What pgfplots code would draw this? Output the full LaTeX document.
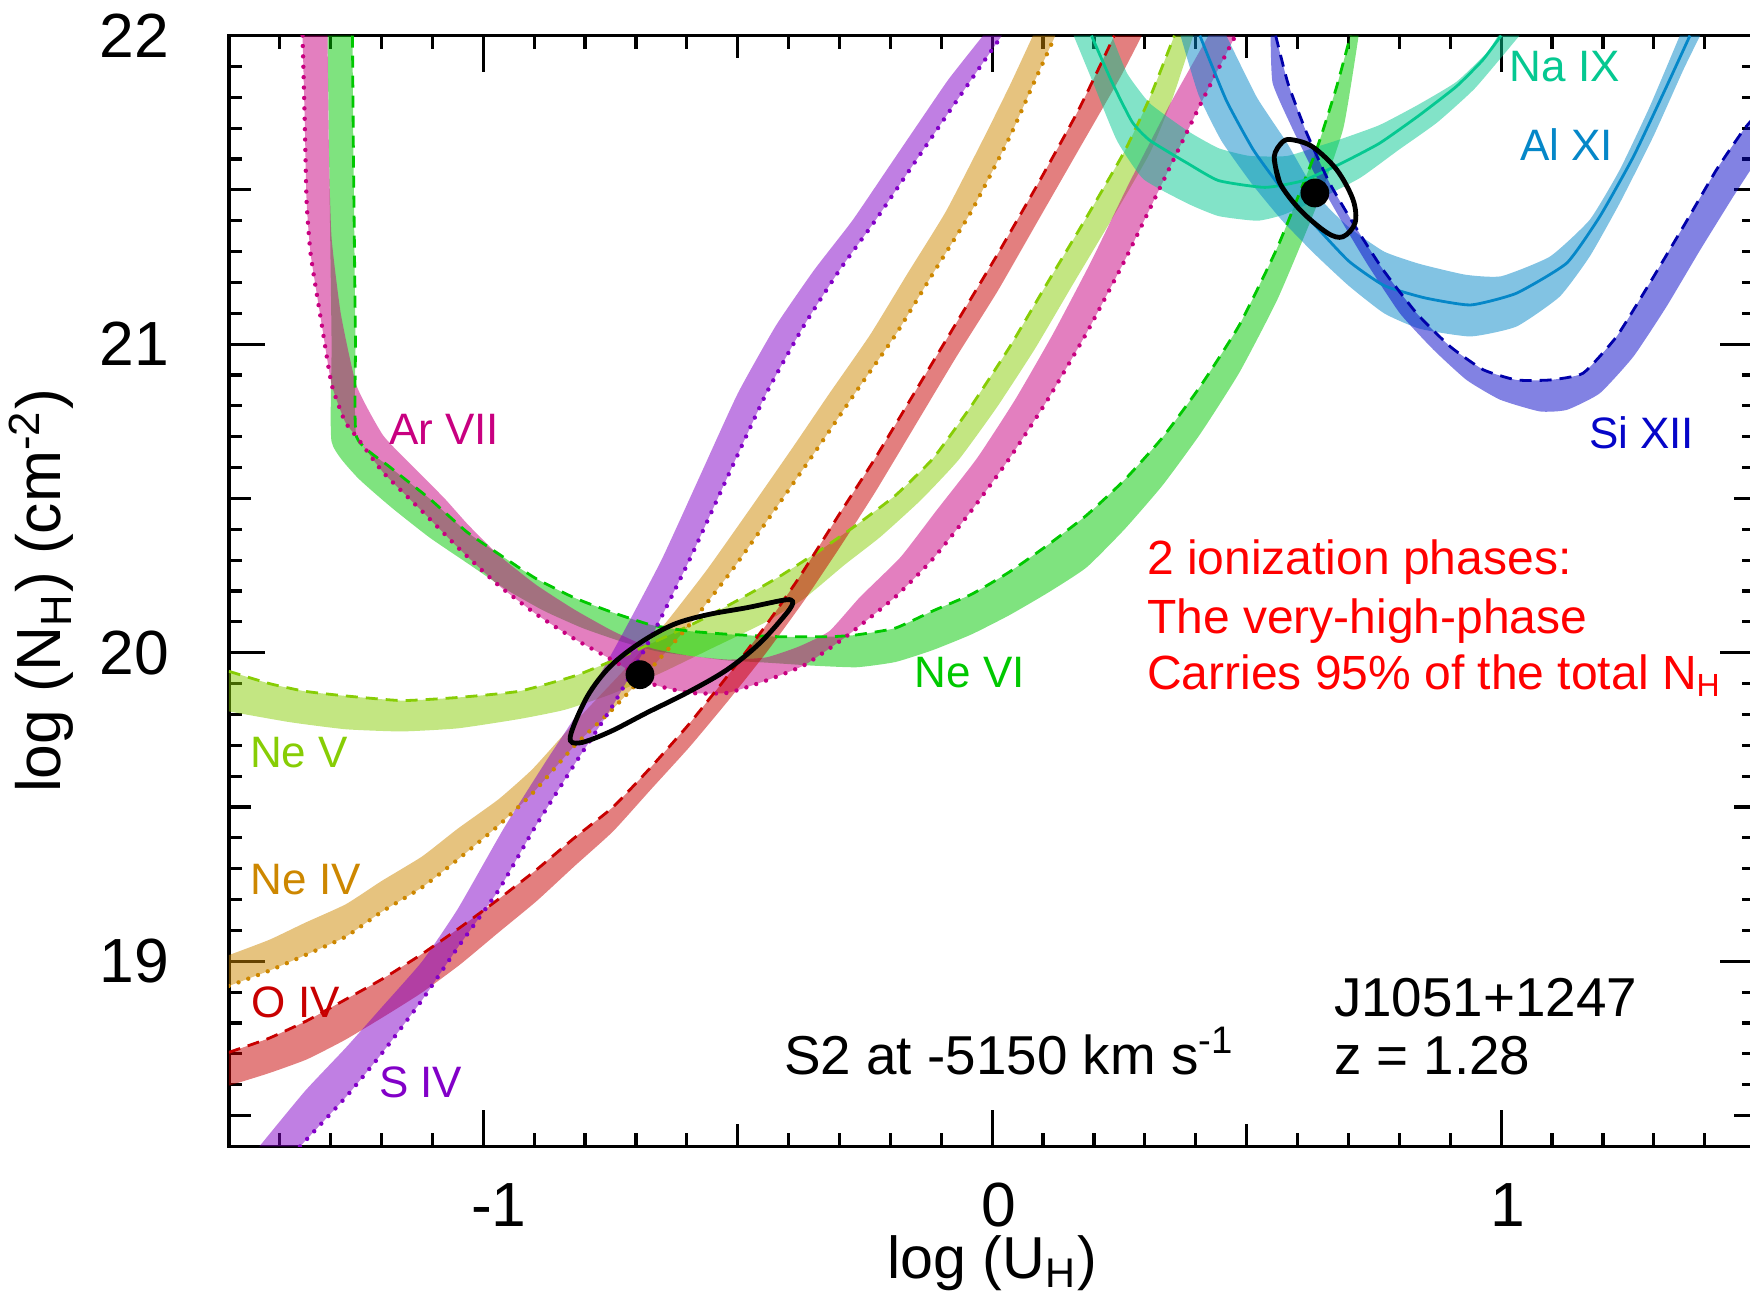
\documentclass[border=0pt]{standalone}
\usepackage{pgfplots}
\pgfplotsset{compat=1.18}
\usepgfplotslibrary{fillbetween}
\usepackage{fontspec}
\setmainfont{Liberation Sans}

% ion colours (bands are filled with these at half opacity)
\definecolor{cArVII}{RGB}{200,0,128}
\definecolor{cNeVI}{RGB}{0,200,0}
\definecolor{cNeV}{RGB}{135,205,5}
\definecolor{cNeIV}{RGB}{205,135,0}
\definecolor{cOIV}{RGB}{200,0,0}
\definecolor{cSIV}{RGB}{130,0,200}
\definecolor{cNaIX}{RGB}{5,200,145}
\definecolor{cAlXI}{RGB}{5,135,200}
\definecolor{cSiXII}{RGB}{5,5,200}
\definecolor{cSiXIIline}{RGB}{0,0,170}

\tikzset{
  band/.style={fill=#1, fill opacity=0.5, draw=none},
  edge/.style={draw=none, smooth, tension=0.3},
  dotline/.style={draw=#1, line width=1.1pt, line cap=round, dash pattern=on 0pt off 2.6pt, smooth, tension=0.3},
  dashline/.style={draw=#1, line width=0.7pt, dash pattern=on 3pt off 2pt, smooth, tension=0.3},
  solidline/.style={draw=#1, line width=0.7pt, smooth, tension=0.3},
  ionlabel/.style={text=#1, font=\fontsize{11}{13}\selectfont, inner sep=0pt},
}

\begin{document}
\begin{tikzpicture}
\begin{axis}[
  width=381.75pt, height=277.75pt, scale only axis,
  xmin=-1.5, xmax=1.5, ymin=18.4, ymax=22,
  xtick={-1,0,1}, xticklabels={\kern4.4pt-1,0,1},
  ytick={19,20,21,22}, yticklabels={19,20,21,22},
  minor xtick={-1.4,-1.3,-1.2,-1.1,-0.9,-0.8,-0.7,-0.6,-0.4,-0.3,-0.2,-0.1,0.1,0.2,0.3,0.4,0.6,0.7,0.8,0.9,1.1,1.2,1.3,1.4},
  minor ytick={18.6,18.7,18.8,18.9,19.1,19.2,19.3,19.4,19.6,19.7,19.8,19.9,20.1,20.2,20.3,20.4,20.6,20.7,20.8,20.9,21.1,21.2,21.3,21.4,21.6,21.7,21.8,21.9},
  extra x ticks={-0.5,0.5}, extra x tick labels={},
  extra x tick style={major tick length=5.5pt},
  extra y ticks={18.5,19.5,20.5,21.5}, extra y tick labels={},
  extra y tick style={major tick length=5.5pt},
  major tick length=9pt, minor tick length=3.3pt,
  tick style={black, line width=0.8pt},
  axis line style={line width=0.9pt},
  tick align=inside,
  ticklabel style={font=\fontsize{15.6}{18}\selectfont},
  xticklabel style={inner sep=0pt, anchor=north, yshift=-9pt, xshift=1.7pt},
  yticklabel style={inner sep=0pt, anchor=east, xshift=-14.7pt},
  label style={font=\fontsize{15.6}{18}\selectfont},
  xlabel style={font=\fontsize{14.8}{17}\selectfont},
  xlabel={log (U\textsubscript{H})},
  ylabel={log (N\textsubscript{H}) (cm\textsuperscript{-2})},
  xlabel style={at={(axis description cs:0.5,-0.1188)}, anchor=base, inner sep=0pt},
  ylabel style={at={(axis description cs:-0.110,0.5)}, anchor=base, inner sep=0pt},
]

% ---------------- Ne V ----------------
\addplot[dashline=cNeV, name path=neVa] coordinates {
(-1.50,19.94) (-1.42,19.90) (-1.35,19.875) (-1.27,19.86) (-1.16,19.845) (-1.05,19.855)
(-0.93,19.875) (-0.82,19.925) (-0.745,19.975) (-0.67,20.03) (-0.58,20.10) (-0.50,20.17)
(-0.42,20.245) (-0.34,20.33) (-0.27,20.41) (-0.19,20.51) (-0.116,20.63) (-0.041,20.80)
(0.034,20.99) (0.109,21.20) (0.185,21.41) (0.26,21.625) (0.31,21.80) (0.358,22.0)};
\addplot[edge, name path=neVb] coordinates {
(-1.50,19.81) (-1.38,19.775) (-1.27,19.752) (-1.16,19.745) (-1.05,19.755) (-0.93,19.785)
(-0.84,19.815) (-0.75,19.865) (-0.65,19.935) (-0.55,20.015) (-0.45,20.095) (-0.37,20.175)
(-0.29,20.285) (-0.22,20.375) (-0.14,20.495) (-0.066,20.625) (0.009,20.795) (0.084,20.985)
(0.159,21.195) (0.235,21.405) (0.31,21.62) (0.355,21.80) (0.395,22.0)};
\addplot[band=cNeV] fill between[of=neVa and neVb];

% ---------------- Ne IV ----------------
\addplot[dotline=cNeIV, name path=neIVa] coordinates {
(-1.5,18.92) (-1.42,18.97) (-1.35,19.02) (-1.27,19.08) (-1.20,19.16) (-1.12,19.24)
(-1.05,19.33) (-0.97,19.44) (-0.90,19.55) (-0.82,19.70) (-0.75,19.81) (-0.67,19.95)
(-0.59,20.10) (-0.51,20.27) (-0.42,20.48) (-0.34,20.67) (-0.27,20.84) (-0.19,21.03)
(-0.116,21.23) (-0.041,21.43) (0.034,21.67) (0.08,21.84) (0.124,22.0)};
\addplot[edge, name path=neIVb] coordinates {
(-1.5,19.02) (-1.42,19.07) (-1.35,19.125) (-1.27,19.185) (-1.20,19.26) (-1.12,19.34)
(-1.05,19.43) (-0.97,19.525) (-0.905,19.62) (-0.85,19.72) (-0.80,19.81) (-0.72,19.95)
(-0.64,20.10) (-0.56,20.27) (-0.47,20.48) (-0.39,20.67) (-0.32,20.84) (-0.24,21.03)
(-0.166,21.23) (-0.091,21.43) (-0.016,21.67) (0.035,21.84) (0.08,22.0)};
\addplot[band=cNeIV] fill between[of=neIVa and neIVb];

% ---------------- Ne VI ----------------
\addplot[dashline=cNeVI, name path=neVIa] coordinates {
(-1.257,22.0) (-1.255,21.6) (-1.253,21.3) (-1.251,21.0) (-1.249,20.70) (-1.182,20.60)
(-1.106,20.50) (-1.031,20.39) (-0.956,20.305) (-0.896,20.24) (-0.821,20.178) (-0.745,20.13)
(-0.670,20.09) (-0.595,20.07) (-0.520,20.06) (-0.42,20.052) (-0.318,20.052) (-0.266,20.058)
(-0.19,20.08) (-0.116,20.136) (-0.04,20.19) (0.034,20.262) (0.11,20.35) (0.185,20.445)
(0.26,20.56) (0.335,20.698) (0.410,20.866) (0.486,21.063) (0.561,21.316) (0.636,21.625)
(0.676,21.83) (0.704,22.0)};
\addplot[edge, name path=neVIb] coordinates {
(-1.306,22.0) (-1.302,21.5) (-1.298,21.0) (-1.298,20.684) (-1.249,20.571) (-1.182,20.473)
(-1.106,20.374) (-1.031,20.29) (-0.956,20.206) (-0.881,20.136) (-0.805,20.08) (-0.730,20.037)
(-0.66,20.005) (-0.595,19.99) (-0.52,19.975) (-0.444,19.968) (-0.35,19.958) (-0.266,19.953)
(-0.19,19.97) (-0.116,20.009) (-0.04,20.06) (0.034,20.122) (0.11,20.195) (0.185,20.276)
(0.26,20.40) (0.335,20.543) (0.410,20.712) (0.486,20.909) (0.561,21.147) (0.636,21.442)
(0.69,21.70) (0.72,22.0)};
\addplot[band=cNeVI] fill between[of=neVIa and neVIb];

% ---------------- Ar VII ----------------
\addplot[dotline=cArVII, name path=arVIIa] coordinates {
(-1.355,22.0) (-1.351,21.74) (-1.347,21.46) (-1.339,21.29) (-1.317,21.06) (-1.298,20.87)
(-1.272,20.75) (-1.249,20.70) (-1.197,20.585) (-1.121,20.46) (-1.046,20.335) (-0.971,20.22)
(-0.896,20.125) (-0.821,20.045) (-0.745,19.975) (-0.670,19.90) (-0.595,19.87) (-0.520,19.87)
(-0.444,19.91) (-0.369,19.96) (-0.289,20.05) (-0.191,20.18) (-0.116,20.305) (-0.041,20.46)
(0.034,20.63) (0.109,20.82) (0.185,21.035) (0.260,21.27) (0.335,21.525) (0.410,21.78)
(0.478,22.0)};
\addplot[edge, name path=arVIIb] coordinates {
(-1.306,22.0) (-1.303,21.6) (-1.298,21.344) (-1.28,21.10) (-1.249,20.866) (-1.197,20.705)
(-1.136,20.60) (-1.076,20.50) (-1.031,20.417) (-0.971,20.318) (-0.896,20.22) (-0.821,20.14)
(-0.745,20.07) (-0.670,20.015) (-0.595,19.99) (-0.520,19.978) (-0.444,19.985) (-0.38,20.02)
(-0.32,20.07) (-0.26,20.18) (-0.18,20.31) (-0.11,20.46) (-0.03,20.63) (0.045,20.82)
(0.12,21.035) (0.195,21.27) (0.27,21.525) (0.35,21.78) (0.425,22.0)};
\addplot[band=cArVII] fill between[of=arVIIa and arVIIb];

% ---------------- O IV ----------------
\addplot[dashline=cOIV, name path=oIVa] coordinates {
(-1.5,18.705) (-1.422,18.75) (-1.347,18.807) (-1.272,18.875) (-1.197,18.944) (-1.121,19.023)
(-1.046,19.109) (-0.971,19.20) (-0.896,19.296) (-0.821,19.40) (-0.745,19.50) (-0.670,19.63)
(-0.595,19.77) (-0.520,19.925) (-0.444,20.09) (-0.378,20.247) (-0.30,20.45) (-0.23,20.63)
(-0.15,20.85) (-0.07,21.07) (0.01,21.29) (0.09,21.52) (0.17,21.76) (0.24,22.0)};
\addplot[edge, name path=oIVb] coordinates {
(-1.5,18.597) (-1.422,18.637) (-1.347,18.682) (-1.272,18.745) (-1.197,18.819) (-1.121,18.898)
(-1.046,18.989) (-0.971,19.092) (-0.896,19.194) (-0.821,19.308) (-0.745,19.421) (-0.670,19.558)
(-0.595,19.694) (-0.520,19.842) (-0.444,20.0) (-0.369,20.17) (-0.30,20.34) (-0.23,20.52)
(-0.15,20.74) (-0.07,20.96) (0.01,21.17) (0.09,21.40) (0.17,21.63) (0.25,21.86) (0.294,22.0)};
\addplot[band=cOIV] fill between[of=oIVa and oIVb];

% ---------------- S IV ----------------
\addplot[dotline=cSIV, name path=sIVa] coordinates {
(-1.36,18.40) (-1.27,18.56) (-1.20,18.70) (-1.12,18.875) (-1.05,19.045) (-0.97,19.23)
(-0.90,19.43) (-0.82,19.64) (-0.745,19.83) (-0.67,20.05) (-0.595,20.30) (-0.52,20.57)
(-0.444,20.84) (-0.37,21.06) (-0.30,21.24) (-0.23,21.40) (-0.16,21.57) (-0.09,21.74)
(-0.04,21.86) (0.019,22.0)};
\addplot[edge, name path=sIVb] coordinates {
(-1.44,18.40) (-1.35,18.58) (-1.27,18.72) (-1.20,18.85) (-1.12,19.00) (-1.05,19.17)
(-0.96,19.43) (-0.88,19.64) (-0.805,19.83) (-0.73,20.05) (-0.65,20.30) (-0.575,20.57)
(-0.50,20.84) (-0.425,21.06) (-0.35,21.24) (-0.275,21.40) (-0.205,21.57) (-0.135,21.74)
(-0.085,21.86) (-0.018,22.0)};
\addplot[band=cSIV] fill between[of=sIVa and sIVb];

% ---------------- Na IX ----------------
\addplot[edge, name path=naIXa] coordinates {
(0.16,22.0) (0.20,21.84) (0.245,21.66) (0.297,21.535) (0.385,21.455) (0.445,21.415)
(0.521,21.40) (0.573,21.42) (0.648,21.475) (0.724,21.54) (0.799,21.63) (0.874,21.718)
(0.949,21.83) (1.036,22.0)};
\addplot[edge, name path=naIXb] coordinates {
(0.235,22.0) (0.265,21.878) (0.31,21.78) (0.385,21.69) (0.445,21.635) (0.506,21.61)
(0.58,21.61) (0.648,21.645) (0.686,21.665) (0.761,21.71) (0.836,21.775) (0.912,21.85)
(0.972,21.945) (0.994,22.0)};
\addplot[band=cNaIX] fill between[of=naIXa and naIXb];
\addplot[solidline=cNaIX] coordinates {
(0.195,22.0) (0.235,21.85) (0.275,21.72) (0.31,21.66) (0.385,21.585) (0.445,21.53)
(0.536,21.508) (0.611,21.53) (0.686,21.586) (0.761,21.651) (0.836,21.738) (0.912,21.835)
(0.964,21.921) (1.0,22.0)};

% ---------------- Al XI ----------------
\addplot[edge, name path=alXIa] coordinates {
(0.37,22.0) (0.405,21.81) (0.45,21.66) (0.51,21.52) (0.57,21.40) (0.635,21.29) (0.70,21.19)
(0.77,21.10) (0.84,21.05) (0.94,21.025) (1.03,21.057) (1.115,21.154) (1.174,21.284)
(1.233,21.457) (1.299,21.673) (1.358,21.889) (1.391,22.0)};
\addplot[edge, name path=alXIb] coordinates {
(0.46,22.0) (0.52,21.80) (0.58,21.65) (0.64,21.48) (0.70,21.38) (0.77,21.30) (0.84,21.26)
(0.93,21.225) (1.0,21.22) (1.096,21.284) (1.174,21.403) (1.233,21.565) (1.292,21.77)
(1.351,22.0)};
\addplot[band=cAlXI] fill between[of=alXIa and alXIb];
\addplot[solidline=cAlXI] coordinates {
(0.408,22.0) (0.46,21.79) (0.513,21.63) (0.566,21.51) (0.626,21.40) (0.70,21.27) (0.77,21.19)
(0.85,21.15) (0.94,21.127) (1.03,21.165) (1.129,21.263) (1.194,21.414) (1.26,21.608)
(1.325,21.835) (1.371,22.0)};

% ---------------- Si XII ----------------
\addplot[dashline=cSiXIIline, name path=siXIIa] coordinates {
(0.557,22.0) (0.581,21.846) (0.618,21.684) (0.663,21.522) (0.71,21.39) (0.768,21.241)
(0.834,21.10) (0.90,20.992) (0.965,20.917) (1.03,20.884) (1.096,20.884) (1.161,20.906)
(1.227,21.025) (1.292,21.198) (1.358,21.381) (1.423,21.565) (1.476,21.694) (1.5,21.74)};
\addplot[edge, name path=siXIIb] coordinates {
(0.547,22.0) (0.551,21.846) (0.588,21.705) (0.633,21.554) (0.686,21.40) (0.736,21.262)
(0.801,21.10) (0.867,20.982) (0.932,20.884) (0.998,20.82) (1.076,20.782) (1.129,20.787)
(1.194,20.841) (1.26,20.96) (1.325,21.122) (1.391,21.305) (1.456,21.478) (1.5,21.59)};
\addplot[band=cSiXII] fill between[of=siXIIa and siXIIb];

% ---------------- confidence contours and best solutions ----------------
\addplot[black, line width=1.2pt, smooth, tension=0.55] coordinates {
(-0.392,20.16) (-0.403,20.13) (-0.456,20.032) (-0.521,19.945) (-0.600,19.870) (-0.678,19.806)
(-0.751,19.744) (-0.810,19.708) (-0.829,19.728) (-0.796,19.857) (-0.751,19.955) (-0.692,20.032)
(-0.627,20.091) (-0.560,20.123) (-0.482,20.146) (-0.403,20.172) (-0.392,20.16)};
\addplot[black, line width=1.2pt, smooth, tension=0.55] coordinates {
(0.554,21.607) (0.565,21.523) (0.605,21.435) (0.658,21.361) (0.689,21.348) (0.713,21.393)
(0.709,21.468) (0.677,21.565) (0.630,21.639) (0.591,21.662) (0.571,21.656) (0.554,21.607)
(0.565,21.523)};
\addplot[only marks, mark=*, mark size=3.4pt, black] coordinates {(-0.692,19.929) (0.634,21.49)};

% ---------------- ion names ----------------
\node[ionlabel=cArVII] at (axis cs:-1.077,20.723) {Ar VII};
\node[ionlabel=cNeVI] at (axis cs:-0.044,19.935) {Ne VI};
\node[ionlabel=cNeV] at (axis cs:-1.362,19.675) {Ne V};
\node[ionlabel=cNeIV] at (axis cs:-1.349,19.266) {Ne IV};
\node[ionlabel=cOIV] at (axis cs:-1.368,18.868) {O IV};
\node[ionlabel=cSIV] at (axis cs:-1.123,18.608) {S IV};
\node[ionlabel=cNaIX] at (axis cs:1.125,21.899) {Na IX};
\node[ionlabel=cAlXI] at (axis cs:1.129,21.646) {Al XI};
\node[ionlabel=cSiXII] at (axis cs:1.276,20.712) {Si XII};

% ---------------- annotations ----------------
\begin{scope}[every node/.style={anchor=base west, inner sep=0pt, text=red, font=\fontsize{12}{14}\selectfont}]
\node at (axis cs:0.303,20.253) {2 ionization phases:};
\node at (axis cs:0.303,20.062) {The very-high-phase};
\node at (axis cs:0.303,19.881) {Carries 95\% of the total N\textsubscript{H}};
\end{scope}
\begin{scope}[every node/.style={anchor=base west, inner sep=0pt, font=\fontsize{13.7}{16}\selectfont}]
\node at (axis cs:-0.410,18.632) {S2 at -5150 km s\textsuperscript{-1}};
\node at (axis cs:0.670,18.821) {J1051+1247};
\node at (axis cs:0.670,18.632) {z = 1.28};
\end{scope}
\end{axis}
\pgfresetboundingbox
\path[use as bounding box] ([xshift=-57.2pt,yshift=-36.6pt]current axis.south west)
  rectangle ([xshift=-1.4pt,yshift=8.9pt]current axis.north east);
\end{tikzpicture}
\end{document}
